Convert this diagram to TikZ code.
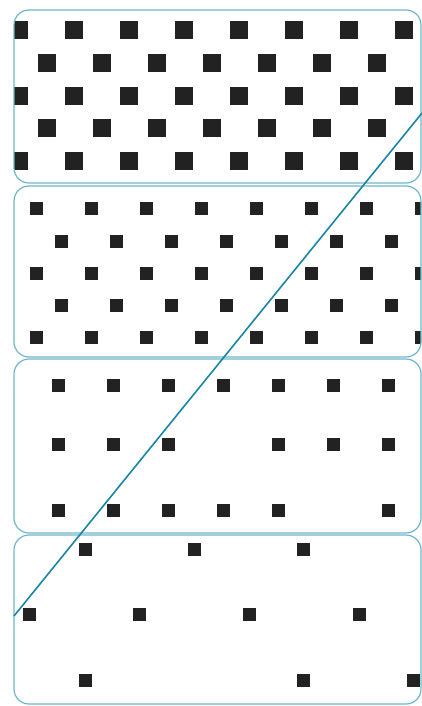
\documentclass[tikz,border=0pt]{standalone}
\usetikzlibrary{positioning}
\begin{document}
\begin{tikzpicture}[x=1pt, y=-1pt]
        % Definizione colori
        \definecolor{boxteal}{RGB}{110,182,202}
        \definecolor{lineteal}{RGB}{24,134,165}
        \definecolor{dotgray}{RGB}{34,34,34}
        \useasboundingbox (0,0) rectangle (422,706);

        % Strato 1 (molto denso, quadrati grandi)
        \begin{scope}
            \clip[rounded corners=15pt] (14,10) rectangle (421,183);
            \foreach \y in {30,96,161}
                \foreach \x in {19,74,...,410}
                    \fill[dotgray] (\x-9,\y-9) rectangle ++(18,18);
            \foreach \y in {63,128}
                \foreach \x in {47,102,...,380}
                    \fill[dotgray] (\x-9,\y-9) rectangle ++(18,18);
        \end{scope}
        \draw[boxteal, line width=1.2pt, rounded corners=15pt] (14,10) rectangle (421,183);

        % Strato 2 (denso, quadrati piccoli)
        \begin{scope}
            \clip[rounded corners=15pt] (14,186) rectangle (421,357);
            \foreach \y in {208,273,337}
                \foreach \x in {36,91,...,425}
                    \fill[dotgray] (\x-6.5,\y-6.5) rectangle ++(13,13);
            \foreach \y in {241,305}
                \foreach \x in {61,116,...,395}
                    \fill[dotgray] (\x-6.5,\y-6.5) rectangle ++(13,13);
        \end{scope}
        \draw[boxteal, line width=1.2pt, rounded corners=15pt] (14,186) rectangle (421,357);

        % Strato 3 (medio, alcuni mancanti)
        \begin{scope}
            \clip[rounded corners=15pt] (14,359) rectangle (421,533);
            \foreach \x in {58,113,168,223,278,333,388}
                \fill[dotgray] (\x-6.5,385-6.5) rectangle ++(13,13);
            \foreach \x in {58,113,168,278,333,388}
                \fill[dotgray] (\x-6.5,444-6.5) rectangle ++(13,13);
            \foreach \x in {58,113,168,223,278,388}
                \fill[dotgray] (\x-6.5,510-6.5) rectangle ++(13,13);
        \end{scope}
        \draw[boxteal, line width=1.2pt, rounded corners=15pt] (14,359) rectangle (421,533);

        % Strato 4 (rado)
        \begin{scope}
            \clip[rounded corners=15pt] (14,535) rectangle (421,704);
            \foreach \x in {85,194,303}
                \fill[dotgray] (\x-6.5,549-6.5) rectangle ++(13,13);
            \foreach \x in {29,139,249,359}
                \fill[dotgray] (\x-6.5,614-6.5) rectangle ++(13,13);
            \foreach \x in {85,303,413}
                \fill[dotgray] (\x-6.5,680-6.5) rectangle ++(13,13);
        \end{scope}
        \draw[boxteal, line width=1.2pt, rounded corners=15pt] (14,535) rectangle (421,704);

        % Retta diagonale
        \coordinate (base) at (14,616);
        \coordinate (cima) at (422,113);
        \draw[lineteal, line width=1.6pt] (base) -- (cima);
    \end{tikzpicture}
\end{document}
